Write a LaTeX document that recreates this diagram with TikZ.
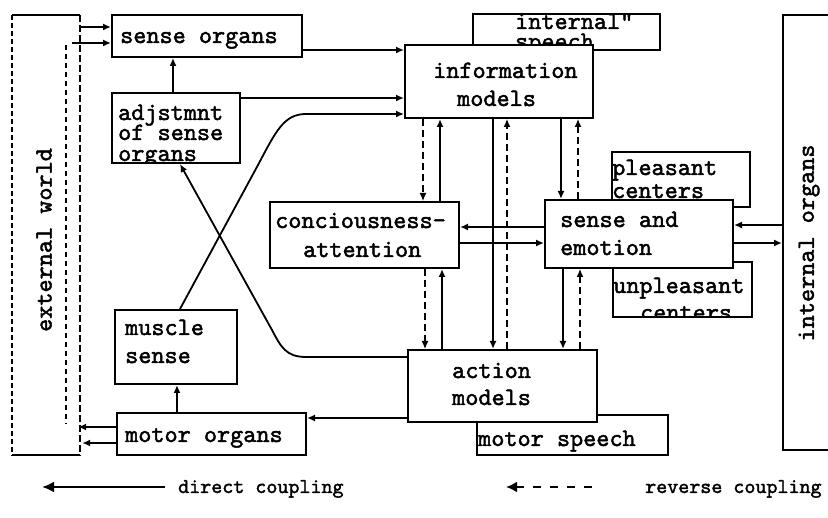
\documentclass[tikz,border=0pt]{standalone}
\usepackage{fontspec}
\newfontfamily\tw{lmmono10-regular.otf}[FakeBold=1.8]
\usetikzlibrary{arrows.meta}
\begin{document}
\begin{tikzpicture}[x=1pt,y=-1pt,
  box/.style={draw,line width=2pt,fill=white,inner sep=0pt},
  lbl/.style={anchor=base west,inner sep=0pt,font=\tw\fontsize{25}{25}\selectfont},
  con/.style={line width=1.8pt,-{Latex[length=8pt,width=7pt]}},
  rev/.style={line width=1.3pt,dash pattern=on 7pt off 4pt,-{Latex[length=8pt,width=7pt]}},
  legtxt/.style={anchor=base west,inner sep=0pt,font=\tw\fontsize{21}{21}\selectfont},
]
\useasboundingbox (0,0) rectangle (828,518);

% external world
\node[inner sep=0pt,minimum width=68pt,minimum height=440pt] (ext) at (46,235) {};
\draw[line width=2pt] (ext.north west) -- (ext.north east);
\draw[line width=2pt] (ext.south west) -- (ext.south east);
\draw[line width=1.5pt,dash pattern=on 5pt off 3pt] (ext.north west) -- (ext.south west);
\draw[line width=1.5pt,dash pattern=on 7pt off 3pt] (ext.north east) -- (ext.south east);
\draw[line width=1.2pt,dash pattern=on 5pt off 4pt] (ext.north -| 66,0) ++(0,30) coordinate (extin) -- (extin |- 0,423) coordinate (extinb);
\node[rotate=90,inner sep=0pt,font=\tw\fontsize{25}{25}\selectfont] (extlbl) at (44,240) {external world};

% internal organs
\node[box,minimum width=77pt,minimum height=435pt] (intorg) at (821.5,232.5) {};
\node[rotate=90,inner sep=0pt,font=\tw\fontsize{25}{25}\selectfont] (intlbl) at (809,243) {internal organs};

% sense organs
\node[box,minimum width=190pt,minimum height=42pt] (senseorg) at (207,36) {};
\node[lbl] (tso) at (120,43) {sense organs};

% adjustment
\node[box,minimum width=128pt,minimum height=70pt] (adj) at (176,128) {};
\begin{scope}
\clip (112,93) rectangle (240,164);
\node[lbl,text height=9pt,text depth=0pt] (tadj1) at (118,120) {adjstmnt};
\node[lbl,text height=9pt,text depth=0pt] (tadj2) at (118,140) {of sense};
\node[lbl,text height=9pt,text depth=0pt] (tadj3) at (118,161) {organs};
\end{scope}

% internal speech + information models
\node[box,minimum width=187pt,minimum height=36pt] (speech) at (566.5,32) {};
\node[lbl,text height=9pt,text depth=0pt] (tsp1) at (515,29) {internal"};
\node[lbl,text height=9pt,text depth=0pt] (tsp2) at (515,49) {speech};
\node[box,minimum width=188pt,minimum height=73pt] (info) at (499,81.5) {};
\node[lbl] (tinf1) at (433,78) {information};
\node[lbl] (tinf2) at (457,106) {models};

% pleasant / unpleasant / sense and emotion
\node[box,minimum width=138pt,minimum height=55pt] (pleas) at (681,179.5) {};
\node[lbl] (tpl1) at (612,175) {pleasant};
\node[lbl] (tpl2) at (612,198) {centers};
\node[box,minimum width=139pt,minimum height=55pt] (unpl) at (682.5,289.5) {};
\node[lbl] (tun1) at (613,293) {unpleasant};
\begin{scope}
\clip (613,262) rectangle (752,318);
\node[lbl] (tun2) at (640,320) {centers};
\end{scope}
\node[box,minimum width=188pt,minimum height=68pt] (semo) at (639,234) {};
\node[lbl] (tse1) at (560,227) {sense and};
\node[lbl] (tse2) at (560,255) {emotion};

% consciousness
\node[box,minimum width=189pt,minimum height=66pt] (consc) at (364.5,235) {};
\node[lbl] (tco1) at (275,228) {conciousness-};
\node[lbl] (tco2) at (303,257) {attention};

% muscle sense, motor organs
\node[box,minimum width=122pt,minimum height=74pt] (muscle) at (176,347) {};
\node[lbl] (tmu1) at (125,335) {muscle};
\node[lbl] (tmu2) at (125,363) {sense};
\node[box,minimum width=189pt,minimum height=42pt] (motor) at (211.5,434) {};
\node[lbl] (tmo) at (125,442) {motor organs};

% motor speech + action models
\node[box,minimum width=191pt,minimum height=40pt] (mspeech) at (572.5,435) {};
\node[lbl] (tms) at (478,446) {motor speech};
\node[box,minimum width=189pt,minimum height=72pt] (action) at (502.5,386) {};
\node[lbl] (tac1) at (452,378) {action};
\node[lbl] (tac2) at (452,405) {models};

% connectors: left part
\draw[con] (ext.east |- 0,27) -- (senseorg.west |- 0,27);
\draw[con] ([xshift=-8pt]ext.east |- 0,43) -- (senseorg.west |- 0,43);
\draw[con] ([xshift=-3pt]adj.north) -- ([xshift=-3pt]adj.north |- senseorg.south);
\draw[con] (senseorg.east |- 0,50) -- (info.west |- 0,50);
\draw[con] (adj.east |- 0,98) -- (info.west |- 0,98);
\draw[con] ([xshift=4pt]muscle.north) -- (258,165) .. controls (276,131) and (284,114) .. (306,114) -- (info.west |- 0,114);
\draw[con] (action.west |- 0,357) -- (306,357) .. controls (286,357) and (281,347) .. (272,330) -- ([xshift=4pt]adj.south);
\draw[con] (motor.north -| 177,0) -- (muscle.south -| 177,0);
\draw[con] (action.west |- 0,418) -- (motor.east |- 0,418);
\draw[con] (motor.west |- 0,427) -- ([xshift=-2pt]ext.east |- 0,427);
\draw[con] (motor.west |- 0,443) -- ([xshift=2pt]ext.east |- 0,443);

% horizontal couplings
\draw[con] (semo.west |- 0,227) -- (consc.east |- 0,227);
\draw[con] (consc.east |- 0,243) -- (semo.west |- 0,243);
\draw[con] (intorg.west |- 0,225) -- (semo.east |- 0,225);
\draw[con] (semo.east |- 0,243) -- (intorg.west |- 0,243);

% vertical couplings
\draw[rev] (info.south -| 423,0) -- (consc.north -| 423,0);
\draw[con] (consc.north -| 440,0) -- (info.south -| 440,0);
\draw[con] (info.south -| 493,0) -- (action.north -| 493,0);
\draw[rev] (action.north -| 507,0) -- (info.south -| 507,0);
\draw[con] (info.south -| 561,0) -- (semo.north -| 561,0);
\draw[rev] (semo.north -| 578,0) -- (info.south -| 578,0);
\draw[rev] (consc.south -| 425,0) -- (action.north -| 425,0);
\draw[con] (action.north -| 442,0) -- (consc.south -| 442,0);
\draw[con] (semo.south -| 563,0) -- (action.north -| 563,0);
\draw[rev] (action.north -| 580,0) -- (semo.south -| 580,0);

% legend
\coordinate (la1) at (165,487);
\coordinate (la2) at (42,487);
\draw[line width=2.5pt,-{Latex[length=12pt,width=11pt]}] (la1) -- (la2);
\node[legtxt] (ltd) at (178,493) {direct coupling};
\coordinate (lb1) at (592,487);
\coordinate (lb2) at (506,487);
\draw[line width=2.5pt,dash pattern=on 8pt off 9pt,-{Latex[length=11pt,width=11pt]}] (lb1) -- (lb2);
\node[legtxt] (ltr) at (645,493) {reverse coupling};
\end{tikzpicture}
\end{document}
